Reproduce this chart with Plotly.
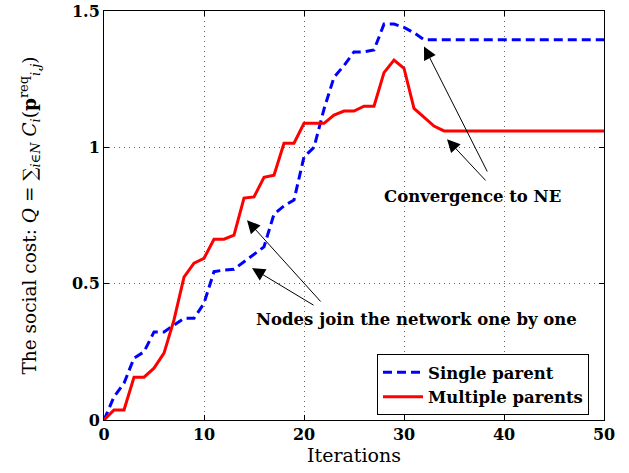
import plotly.graph_objects as go

# Iteration index and social cost for both parent-selection schemes
iterations = list(range(0, 51))

single_parent = [
    0.0, 0.085, 0.135, 0.227, 0.25, 0.323, 0.323, 0.348, 0.373, 0.373,
    0.428, 0.544, 0.55, 0.553, 0.58, 0.605, 0.635, 0.755, 0.785, 0.807,
    0.965, 1.0, 1.14, 1.257, 1.30, 1.35, 1.35, 1.357, 1.452, 1.452,
    1.44, 1.42, 1.395,
] + [1.395] * 18

multiple_parents = [
    0.0, 0.037, 0.037, 0.157, 0.157, 0.19, 0.245, 0.367, 0.524, 0.575,
    0.593, 0.663, 0.663, 0.678, 0.814, 0.818, 0.89, 0.898, 1.015, 1.015,
    1.088, 1.088, 1.088, 1.118, 1.133, 1.133, 1.151, 1.151, 1.274, 1.32,
    1.29, 1.143, 1.112, 1.078, 1.06,
] + [1.06] * 16

x_ticks = [0, 10, 20, 30, 40, 50]
y_ticks = [0, 0.5, 1, 1.5]
y_tick_text = ["0", "0.5", "1", "1.5"]

FONT = "DejaVu Serif"

fig = go.Figure()
fig.add_trace(go.Scatter(
    x=iterations, y=single_parent, mode="lines", name="<b>Single parent</b>",
    line=dict(color="#0000ff", width=3, dash="9px,5px"),
))
fig.add_trace(go.Scatter(
    x=iterations, y=multiple_parents, mode="lines", name="<b>Multiple parents</b>",
    line=dict(color="#ff0000", width=3),
))

axis_common = dict(
    showline=True, linecolor="black", linewidth=1, mirror="allticks",
    ticks="inside", ticklen=5, tickcolor="black",
    showgrid=True, gridcolor="#666666", griddash="1px,4px", gridwidth=1,
    zeroline=False, automargin=False,
    tickfont=dict(family=FONT, size=16, color="black", weight="bold"),
)

fig.update_xaxes(
    range=[0, 50], tickvals=x_ticks,
    title=dict(text="Iterations", font=dict(family=FONT, size=19, color="black"), standoff=0),
    **axis_common,
)
fig.update_yaxes(
    range=[0, 1.5], tickvals=y_ticks, ticktext=y_tick_text,
    title=dict(
        text=("The social cost: <i>Q</i> = ∑<sub><i>i</i>∈<i>N</i></sub> "
              "<i>C<sub>i</sub></i>(<b>p</b><sup>req</sup><sub><i>i,j</i></sub>)"),
        font=dict(family=FONT, size=18.5, color="black"), standoff=30,
    ),
    **axis_common,
)

# Callout arrows
arrow_style = dict(showarrow=True, arrowhead=2, arrowsize=2.6, arrowwidth=1,
                   arrowcolor="black", axref="x", ayref="y", xref="x", yref="y", text="")
arrows = [
    (32.0, 1.37, 38.4, 0.906),
    (34.3, 1.03, 38.3, 0.873),
    (14.3, 0.733, 21.8, 0.429),
    (14.8, 0.557, 21.1, 0.418),
]
for hx, hy, tx, ty in arrows:
    fig.add_annotation(x=hx, y=hy, ax=tx, ay=ty, **arrow_style)

fig.add_annotation(x=36.85, y=0.818, text="<b>Convergence to NE</b>", showarrow=False,
                   font=dict(family=FONT, size=16.5, color="black"))
fig.add_annotation(x=31.2, y=0.367, text="<b>Nodes join the network one by one</b>",
                   showarrow=False, font=dict(family=FONT, size=16.5, color="black"))

fig.update_layout(
    width=629, height=473,
    margin=dict(l=104, r=25, t=11, b=53),
    plot_bgcolor="white", paper_bgcolor="white",
    showlegend=True,
    legend=dict(
        x=0.546, y=0.012, xanchor="left", yanchor="bottom",
        bgcolor="white", bordercolor="black", borderwidth=1,
        font=dict(family=FONT, size=16.5, color="black"),
        tracegroupgap=0, itemwidth=40,
    ),
)

fig.write_html("out.html")
